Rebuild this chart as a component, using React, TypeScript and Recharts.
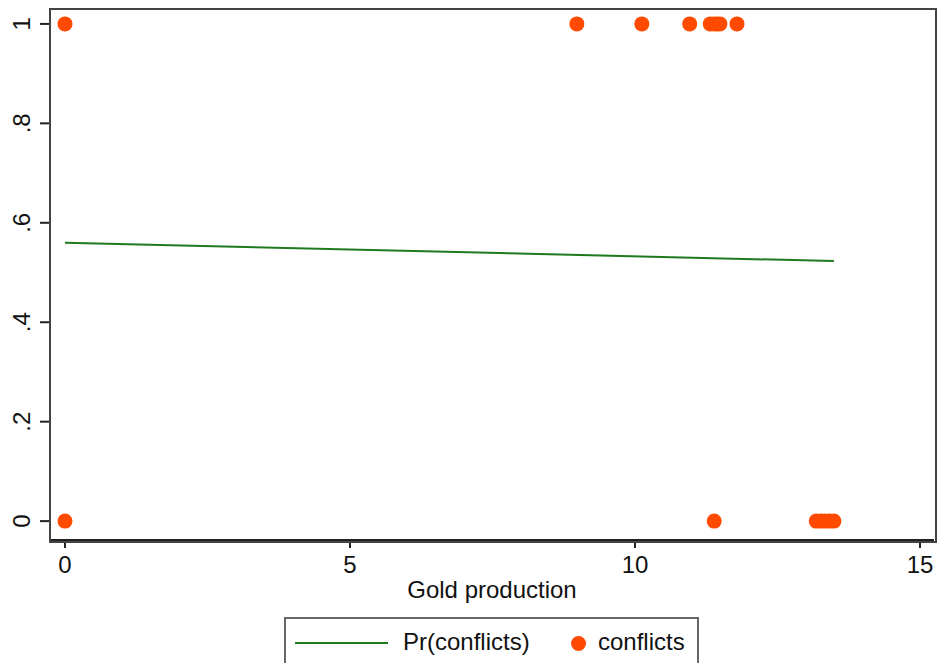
import { ComposedChart, Line, Scatter, XAxis, YAxis } from "recharts";

// conflicts observed (1 = conflict)
const conflictYes = [0, 8.98, 10.12, 10.96, 11.32, 11.39, 11.44, 11.49, 11.79];
const conflictNo = [0, 11.39, 13.18, 13.26, 13.33, 13.41, 13.49];

// predicted probability, endpoints of the fitted line
const predX = [0, 13.49];
const predY = [0.56, 0.523];

const xTicks = [0, 5, 10, 15];
const yTicks = [0, 0.2, 0.4, 0.6, 0.8, 1];
const yTickLabels = ["0", ".2", ".4", ".6", ".8", "1"];

const GREEN = "#1f7a1f";
const ORANGE = "#ff4a00";
const FONT = "Liberation Sans, Arial, sans-serif";

const points = [
  ...conflictYes.map((x) => ({ x, y: 1 })),
  ...conflictNo.map((x) => ({ x, y: 0 })),
];
const lineData = predX.map((x, i) => ({ x, p: predY[i] }));

function YTick({ x, y, payload }: { x: number; y: number; payload: { value: number } }) {
  const idx = yTicks.indexOf(payload.value);
  return (
    <text
      x={x - 8}
      y={y}
      transform={`rotate(-90 ${x - 8} ${y})`}
      textAnchor="middle"
      fill="#111"
      fontSize={24}
      fontFamily={FONT}
    >
      {yTickLabels[idx]}
    </text>
  );
}

function Dot(props: { cx?: number; cy?: number }) {
  return <circle cx={props.cx} cy={props.cy} r={7.5} fill={ORANGE} />;
}

export default function App() {
  return (
    <div style={{ position: "absolute", left: 0, top: 0, width: 937, height: 663, background: "#fff", fontFamily: FONT }}>
      <ComposedChart width={937} height={663} margin={{ top: 9, right: 3, bottom: 63, left: 0 }}>
        <XAxis
          type="number"
          dataKey="x"
          domain={[-0.263, 15.246]}
          ticks={xTicks}
          allowDataOverflow
          height={60}
          stroke="#222"
          strokeWidth={2}
          tickSize={8}
          tick={{ fontSize: 24, fill: "#111", fontFamily: FONT, dy: 6 }}
          label={{ value: "Gold production", position: "insideBottom", offset: 2, fontSize: 24, fill: "#111", fontFamily: FONT }}
        />
        <YAxis
          type="number"
          domain={[-0.038, 1.03]}
          ticks={yTicks}
          allowDataOverflow
          width={50}
          stroke="#222"
          strokeWidth={2}
          tickSize={10}
          tick={YTick}
        />
        <Line
          data={lineData}
          dataKey="p"
          type="linear"
          stroke={GREEN}
          strokeWidth={2}
          dot={false}
          isAnimationActive={false}
        />
        <Scatter data={points} dataKey="y" shape={Dot} isAnimationActive={false} />
      </ComposedChart>

      {/* plot frame */}
      <div
        style={{
          position: "absolute",
          left: 49,
          top: 8,
          width: 884,
          height: 531,
          border: "2px solid #444",
          pointerEvents: "none",
        }}
      />

      {/* legend */}
      <div
        style={{
          position: "absolute",
          left: 284,
          top: 617,
          width: 415,
          height: 50,
          border: "2px solid #666",
          boxSizing: "border-box",
          fontSize: 24,
          color: "#111",
        }}
      >
        <div style={{ position: "absolute", left: 9, top: 23, width: 93, height: 2, background: GREEN }} />
        <span style={{ position: "absolute", left: 117, top: 9 }}>Pr(conflicts)</span>
        <div style={{ position: "absolute", left: 285, top: 17, width: 15, height: 15, borderRadius: "50%", background: ORANGE }} />
        <span style={{ position: "absolute", left: 312, top: 9 }}>conflicts</span>
      </div>
    </div>
  );
}
